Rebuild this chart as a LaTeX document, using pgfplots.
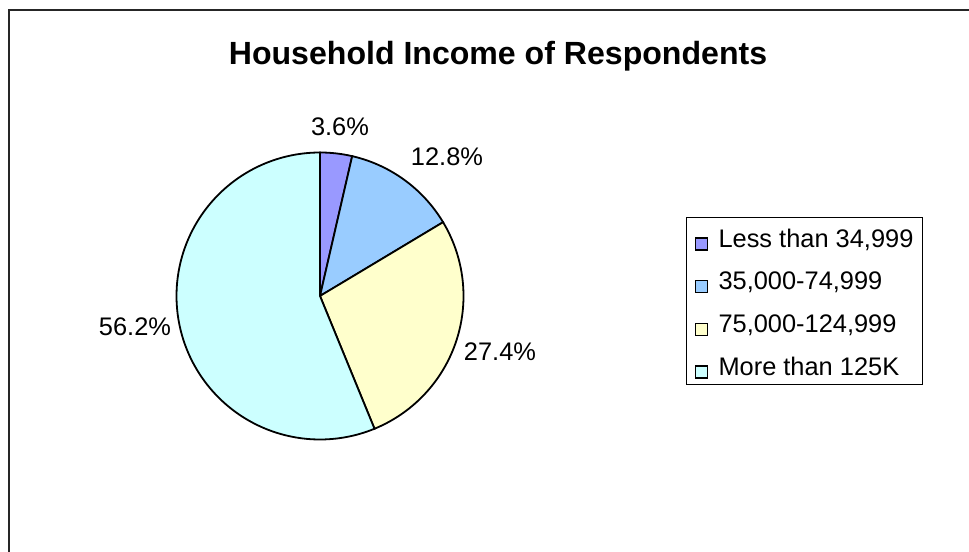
\documentclass[border=0pt]{standalone}
\usepackage{fontspec}
\setmainfont{Liberation Sans}
\usepackage{pgfplots}
\usepackage{pgfplotstable}
\pgfplotsset{compat=1.18}

\definecolor{sliceA}{HTML}{9999FF}
\definecolor{sliceB}{HTML}{99CCFF}
\definecolor{sliceC}{HTML}{FFFFCC}
\definecolor{sliceD}{HTML}{CCFFFF}

% share of respondents, percent
\pgfplotstableread{
value
3.6
12.8
27.4
56.2
}\incometable

% slice edges: start at 12 o'clock, clockwise
\pgfplotstablegetelem{0}{value}\of\incometable
\pgfmathsetmacro\angB{90-3.6*\pgfplotsretval}
\pgfplotstablegetelem{1}{value}\of\incometable
\pgfmathsetmacro\angC{\angB-3.6*\pgfplotsretval}
\pgfplotstablegetelem{2}{value}\of\incometable
\pgfmathsetmacro\angD{\angC-3.6*\pgfplotsretval}
\pgfplotstablegetelem{3}{value}\of\incometable
\pgfmathsetmacro\angE{\angD-3.6*\pgfplotsretval}
\def\cx{320}\def\cy{256}\def\rad{143.5}

\begin{document}
\begin{tikzpicture}
\begin{axis}[
    width=969bp, height=552bp, scale only axis,
    xmin=0, xmax=969, ymin=0, ymax=552,
    hide axis, clip=false,
    legend image code/.code={
      \path[draw=none,fill=none] (0bp,-6bp) rectangle (12bp,6bp);
      \draw[#1,line width=1.5bp,overlay] (0bp,-13bp) rectangle (12bp,-1bp);},
    legend style={
      at={(axis cs:686,335)}, anchor=north west,
      draw=black, line width=1bp, fill=white,
      font=\fontsize{25.5}{30}\selectfont,
      inner xsep=9bp, inner ysep=6bp,
      nodes={inner sep=0pt, text height=23.7bp, text depth=3bp},
      row sep=16.1bp,
      /tikz/every odd column/.append style={column sep=11bp},
    },
    legend cell align=left,
]
\coordinate (bl) at (rel axis cs:0,0);
\coordinate (tr) at (rel axis cs:1,1);

\addplot[fill=sliceA, draw=black, line width=1.8bp, domain=\angB:90, samples=20, variable=\t]
  ({\cx+\rad*cos(\t)}, {\cy+\rad*sin(\t)}) -- (axis cs:\cx,\cy) -- cycle;
\addlegendentry{Less than 34,999}
\addplot[fill=sliceB, draw=black, line width=1.8bp, domain=\angC:\angB, samples=40, variable=\t]
  ({\cx+\rad*cos(\t)}, {\cy+\rad*sin(\t)}) -- (axis cs:\cx,\cy) -- cycle;
\addlegendentry{35,000-74,999}
\addplot[fill=sliceC, draw=black, line width=1.8bp, domain=\angD:\angC, samples=70, variable=\t]
  ({\cx+\rad*cos(\t)}, {\cy+\rad*sin(\t)}) -- (axis cs:\cx,\cy) -- cycle;
\addlegendentry{75,000-124,999}
\addplot[fill=sliceD, draw=black, line width=1.8bp, domain=\angE:\angD, samples=140, variable=\t]
  ({\cx+\rad*cos(\t)}, {\cy+\rad*sin(\t)}) -- (axis cs:\cx,\cy) -- cycle;
\addlegendentry{More than 125K}

\begin{scope}[every node/.style={font=\fontsize{25.5}{30}\selectfont, anchor=base, inner sep=0pt}]
\node at (axis cs:340,416) {3.6\%};
\node at (axis cs:447,386) {12.8\%};
\node at (axis cs:500,191) {27.4\%};
\node at (axis cs:135,216) {56.2\%};
\end{scope}

\node[font=\fontsize{32.2}{38}\selectfont\bfseries, anchor=base, inner sep=0pt]
  at (axis cs:498,487.5) {Household Income of Respondents};

\draw[black!85, line width=2bp] (axis cs:8.5,0) -- (axis cs:8.5,542) -- (axis cs:969,542);
\end{axis}
\pgfresetboundingbox
\path[use as bounding box] (bl) rectangle (tr);
\end{tikzpicture}
\end{document}
